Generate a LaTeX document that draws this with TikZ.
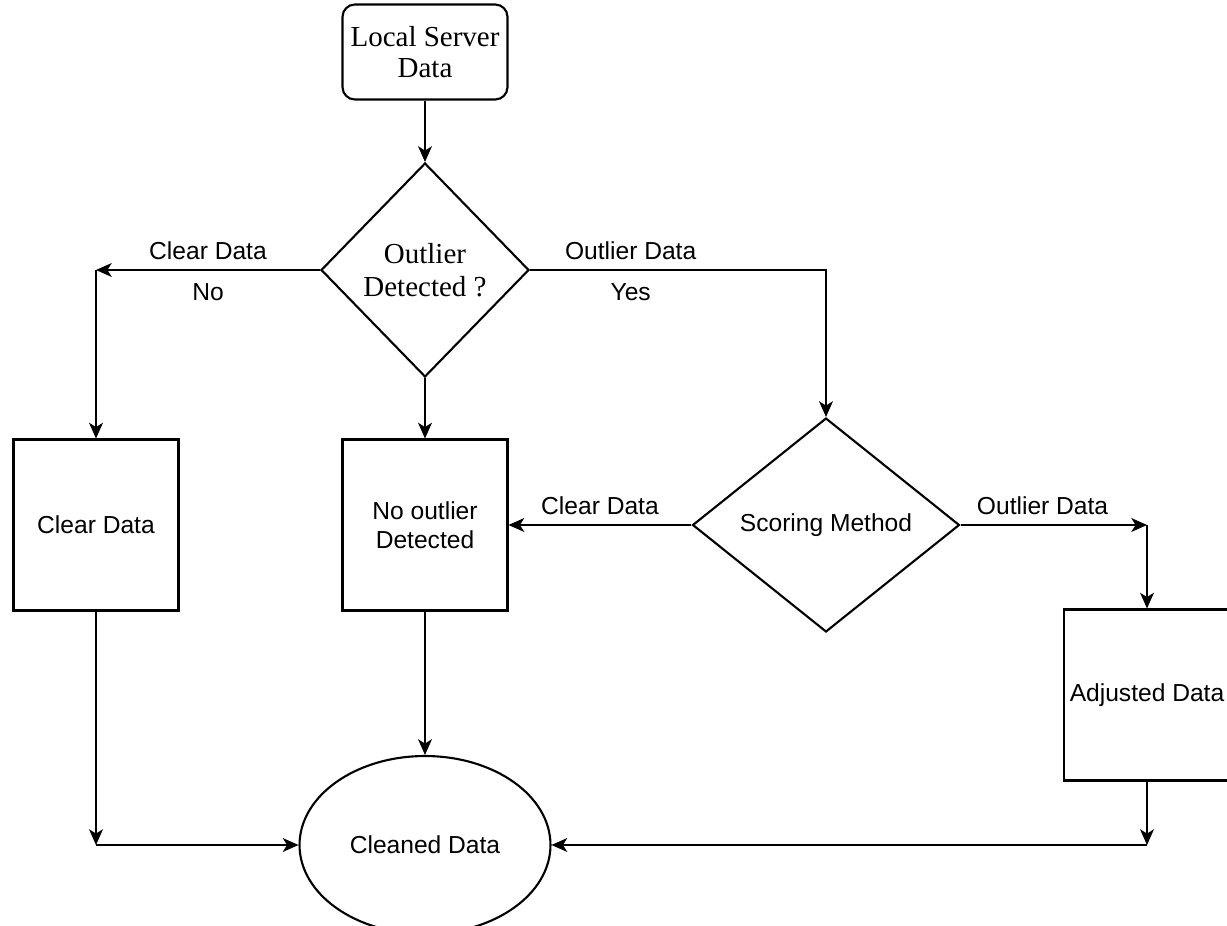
\documentclass[tikz,border=0pt]{standalone}
\usepackage{fontspec}
\setmainfont{Liberation Serif}
\newfontfamily\arialfont{Liberation Sans}
\usetikzlibrary{positioning,shapes.geometric,arrows.meta}

\begin{document}
\begin{tikzpicture}[
    x=0.02cm, y=-0.02cm,
    line width=1.2pt,
    every node/.style={align=center, inner sep=2pt, font=\arialfont\fontsize{14}{16.5}\selectfont},
    startbox/.style={rectangle, draw, rounded corners=7pt, minimum width=3.3cm, minimum height=1.9cm,
                     font=\fontsize{16.5}{17.5}\selectfont},
    decision/.style={diamond, draw, inner sep=0pt, minimum height=4.28cm},
    procbox/.style={rectangle, draw, minimum width=3.3cm, minimum height=3.42cm},
    endnode/.style={ellipse, draw, minimum width=5.02cm, minimum height=3.56cm},
    flowline/.style={-{Stealth[length=9pt, width=8pt, inset=2.5pt, line width=0pt]}}
  ]
  \useasboundingbox (0,0) rectangle (1227,926);

  % Start
  \node[startbox] (local) at (425,52) {Local Server\\Data};

  % First check
  \node[decision, minimum width=4.16cm, font=\fontsize{16.5}{18.5}\selectfont] (detect) at (425,270) {Outlier\\Detected ?};

  % Middle row
  \node[procbox] (clear) at (96,525) {Clear Data};
  \node[procbox] (nooutlier) at (425,525) {No outlier\\Detected};
  \node[decision, minimum width=5.34cm] (scoring) at (826,525) {Scoring Method};
  \node[procbox, minimum width=3.32cm] (adjusted) at (1147,695) {Adjusted Data};

  % End
  \node[endnode] (cleaned) at (425,845) {Cleaned Data};

  % Corners of the connectors
  \coordinate (cornerNo) at (96,270);
  \coordinate (cornerOut) at (1147,525);
  \coordinate (cornerLeft) at (96,845);
  \coordinate (cornerRight) at (1147,845);

  % Connectors
  \draw[flowline] (local) -- (detect);
  \draw[flowline] (detect.west) -- node[above=3pt] {Clear Data} node[below=5pt] {No} (cornerNo);
  \draw[flowline] (cornerNo) -- (clear.north);
  \draw[flowline] (detect.south) -- (nooutlier.north);
  \draw[flowline] (detect.east) -| node[pos=0.17, above=3pt] {Outlier Data} node[pos=0.17, below=5pt] {Yes} (scoring.north);
  \draw[flowline] (scoring.west) -- node[above=3pt] {Clear Data} (nooutlier.east);
  \draw[flowline] (scoring.east) -- node[pos=0.44, above=3pt] {Outlier Data} (cornerOut);
  \draw[flowline] (cornerOut) -- (adjusted.north);
  \draw[flowline] (nooutlier.south) -- (cleaned.north);
  \draw[flowline] (clear.south) -- (cornerLeft);
  \draw[flowline] (cornerLeft) -- (cleaned.west);
  \draw[flowline] (adjusted.south) -- (cornerRight);
  \draw[flowline] (cornerRight) -- (cleaned.east);

\end{tikzpicture}
\end{document}
